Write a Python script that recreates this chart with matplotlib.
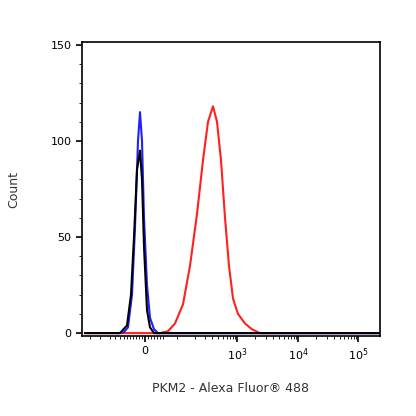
import numpy as np
import matplotlib.pyplot as plt

# x in display channel units (biexponential axis, 0 at 145, ~60.5 per decade)
blue_x = [118, 124, 128, 132, 135, 138, 140, 142, 144, 147, 150, 154, 158, 400]
blue_y = [0, 0.5, 3, 20, 55, 100, 115, 100, 60, 25, 8, 2, 0, 0]
black_x = [85, 120, 127, 131, 134, 137, 140, 142, 144, 147, 150, 154, 400]
black_y = [0, 0, 4, 20, 50, 85, 95, 80, 45, 12, 3, 0, 0]
red_x = [85, 160, 168, 175, 183, 190, 197, 203, 208, 213, 217, 221, 225, 229, 233, 238, 245, 252, 260, 400]
red_y = [0, 0, 1, 5, 15, 35, 62, 90, 110, 118, 110, 90, 60, 35, 18, 10, 5, 2, 0, 0]

tick_pos = [145, 237, 298, 358]
tick_lab = ['0', r'$10^3$', r'$10^4$', r'$10^5$']

fig = plt.figure(figsize=(4.16, 4.16), dpi=100)
ax = fig.add_axes([82/416, 80/416, 298/416, 294/416])
ax.plot(red_x, red_y, color='#ff2020', lw=1.5)
ax.plot(blue_x, blue_y, color='#2020ff', lw=1.5)
ax.plot(black_x, black_y, color='black', lw=1.5)
ax.set_xlim(82, 380)
ax.set_ylim(-1.5, 151.5)
ax.set_xticks(tick_pos)
ax.set_xticklabels(tick_lab, fontsize=8)
minor = [90, 100, 110, 115, 120, 124, 127, 130, 133, 136, 139, 142, 148, 151, 154, 157, 160, 163,
         177, 195, 205, 212, 218, 223, 227, 230, 233, 235, 255, 266, 273, 279, 284, 288, 291, 294, 296,
         316, 327, 334, 340, 344, 348, 351, 354, 356]
ax.set_xticks(minor, minor=True)
ax.set_yticks([0, 50, 100, 150])
ax.set_yticks(np.arange(0, 151, 10), minor=True)
ax.tick_params(labelsize=8, length=4, width=1.2)
ax.tick_params(which='minor', length=2.5)
ax.set_xlabel('PKM2 - Alexa Fluor® 488', fontsize=9, color='#333333', labelpad=14)
ax.set_ylabel('Count', fontsize=9, color='#333333', labelpad=22)
for s in ax.spines.values():
    s.set_linewidth(1.2)
fig.savefig('out.png')
